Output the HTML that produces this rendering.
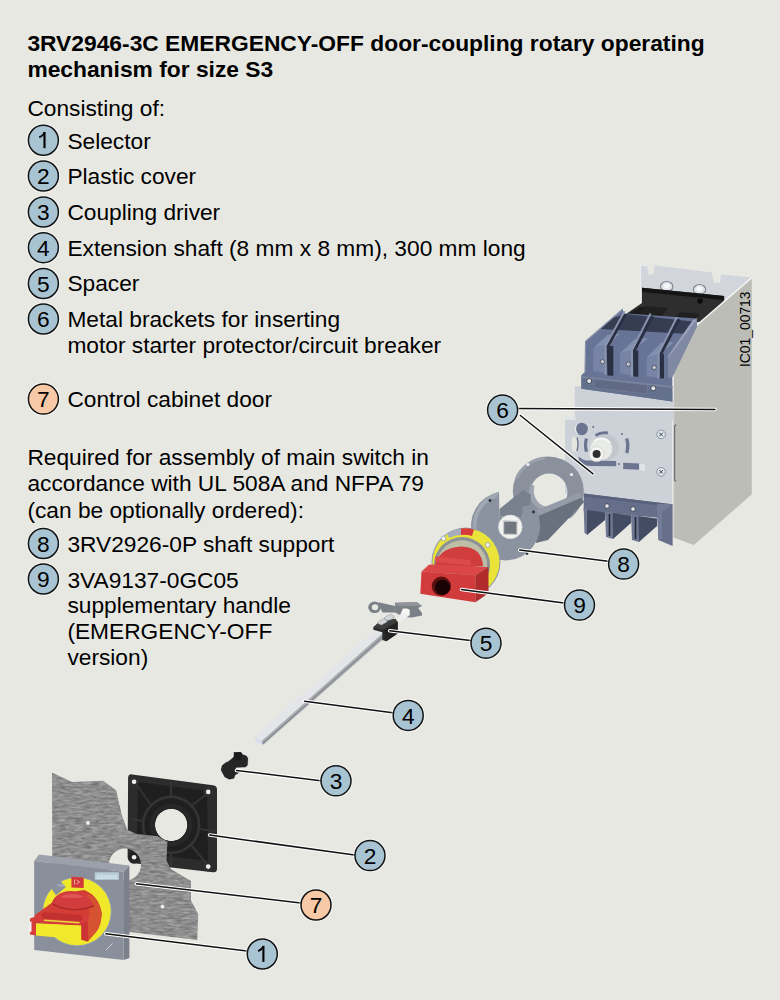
<!DOCTYPE html>
<html><head><meta charset="utf-8">
<style>
html,body{margin:0;padding:0;}
body{width:780px;height:1000px;background:#e8e8e3;overflow:hidden;}
svg{display:block;}
text{font-family:"Liberation Sans",sans-serif;fill:#000;}
.r{font-size:22.72px;}
.bd{font-size:22.8px;font-weight:bold;}
</style></head><body>
<svg width="780" height="1000" viewBox="0 0 780 1000">
<rect width="780" height="1000" fill="#e8e8e3"/>
<defs>
  <filter id="brushf" x="0" y="0" width="1" height="1" color-interpolation-filters="sRGB">
    <feTurbulence type="fractalNoise" baseFrequency="0.12 0.45" numOctaves="3" seed="4" result="n"/>
    <feColorMatrix in="n" type="matrix" values="0 0 0 0 0.5  0 0 0 0 0.5  0 0 0 0 0.5  0 0 0 0 1" result="g"/>
    <feComponentTransfer in="n" result="nn"><feFuncR type="linear" slope="0.42" intercept="0.345"/><feFuncG type="linear" slope="0.42" intercept="0.345"/><feFuncB type="linear" slope="0.42" intercept="0.345"/><feFuncA type="linear" slope="0" intercept="1"/></feComponentTransfer>
    <feColorMatrix in="nn" type="saturate" values="0" result="gray"/>
    <feComposite in="gray" in2="SourceGraphic" operator="in"/>
  </filter>
</defs><!-- ===== DEVICE (top right) ===== -->
<!-- back plate -->
<polygon points="640,264.2 647.2,265.3 648.2,274.5 653.7,274.5 654.4,265.3 711.8,272.4 713.8,282.7 720,282.7 721,274.5 751.8,277.6 700,335 640,335" fill="#d2d6dc"/>
<polyline points="640.5,305 640.5,264.7 647.2,265.8" fill="none" stroke="#eceef0" stroke-width="1.2"/>
<!-- nuts -->
<ellipse cx="666.7" cy="286.5" rx="6.2" ry="5" fill="#dfe3e7" stroke="#7d8389" stroke-width="1.1"/><ellipse cx="666.7" cy="286" rx="3" ry="2.4" fill="#f4f6f8"/>
<ellipse cx="699.5" cy="289.5" rx="6.2" ry="5" fill="#dfe3e7" stroke="#7d8389" stroke-width="1.1"/><ellipse cx="699.5" cy="289" rx="3" ry="2.4" fill="#f4f6f8"/>
<!-- black breaker -->
<polygon points="642,287.8 724.1,296 724.1,306 700,322 640,322 612,325 626.7,313.5 642,303" fill="#2e2e2e"/>
<polygon points="642,287.8 724.1,296 724.1,300 642,292" fill="#141414"/>
<polygon points="622,318 640,307 660,309 640,322" fill="#1a1a1a"/>
<polygon points="646,306 668,308 660,318 638,316" fill="#202020"/>
<polygon points="680,312 700,314 692,322 672,320" fill="#202020"/>
<circle cx="700" cy="301" r="2.8" fill="#0c0c0c"/>
<!-- side panel -->
<polygon points="751.8,277.6 751.8,494.3 693.8,545 673,537.3 673,370.8 686.2,344.6 693.8,327.7" fill="#bdbdb7"/>
<polyline points="751.8,277.6 693.8,327.7 686.2,344.6 673,370.8 673,400" fill="none" stroke="#f4f4f2" stroke-width="1.4"/><line x1="673.8" y1="400" x2="673.8" y2="537" stroke="#d8dad8" stroke-width="1"/>
<!-- upper front plate -->
<polygon points="574.8,386 673,393 673,420 574.8,420" fill="#cdd2d8"/>
<!-- blue terminal block -->
<polygon points="622.8,309 623.4,313.2 697,318.5 697,326 672.3,377 672.3,401.5 650,398.3 581.4,388.7 581.4,375 585,372 585.6,341.4" fill="#687496"/>
<!-- dark back openings -->
<polygon points="612.5,318 626,314 697,322 690,334 600,329" fill="#363d52"/>
<!-- left outer wall highlight -->
<polyline points="622.8,309 585.6,341.4 585,372" fill="none" stroke="#8790aa" stroke-width="1.2"/>
<!-- terminal boxes -->
<polygon points="593.3,348.3 605.8,345 620,334 607.5,335" fill="#8290b0"/>
<polygon points="593.3,348.3 605.8,345 605.8,373.3 593.3,371" fill="#7884a6"/>
<polygon points="620,353.3 633.3,350 648,338 635,339" fill="#8290b0"/>
<polygon points="620,353.3 633.3,350 633.3,375.8 620,373.5" fill="#7884a6"/>
<polygon points="646.7,357.5 660,354 674,342 661,343" fill="#8290b0"/>
<polygon points="646.7,357.5 660,354 660,378.3 646.7,376" fill="#7884a6"/>
<!-- dividers + slots -->
<polygon points="606.5,345.8 624,314 627,314.5 609.5,346 613.3,346 613.3,375.8 607.5,375.5" fill="#2a3043"/>
<polygon points="604.5,346 623.5,311 625.5,311.5 606.5,346 606.5,375 604.5,375" fill="#8a94ae"/>
<polygon points="633,350 651,316 654,316.5 636,350.5 638.3,350.5 638.3,376.7 633.3,376.5" fill="#2a3043"/>
<polygon points="631,350 649.5,313.3 651.5,313.8 633,350 633,376.7 631,376.7" fill="#8a94ae"/>
<polygon points="659.5,353.3 677.5,319 680.5,319.5 662.5,354 664,354 664,378.5 659.5,378.3" fill="#2a3043"/>
<polygon points="657.5,353.5 676,316.7 678,317.2 659.5,353.5 659.5,378.3 657.5,378.3" fill="#8a94ae"/>
<!-- terminal screws -->
<circle cx="602.5" cy="361.7" r="2.1" fill="#c9ccd0" stroke="#3a4052" stroke-width="0.7"/>
<circle cx="628.3" cy="364.2" r="2.1" fill="#c9ccd0" stroke="#3a4052" stroke-width="0.7"/>
<circle cx="654.2" cy="367.5" r="2.1" fill="#c9ccd0" stroke="#3a4052" stroke-width="0.7"/>
<!-- right outer wall -->
<polygon points="697,318.5 697,326 672.3,377 668,378 668,356 693,320" fill="#7f89a3"/>
<polygon points="697,318.5 693,320 668,356 668,358 695,322" fill="#99a2ba"/>
<!-- base band -->
<polygon points="581.4,376 672.3,386 672.3,401.5 650,398.3 581.4,388.7" fill="#63708e"/>
<polygon points="581.4,376 672.3,386 672.3,388 581.4,378" fill="#7a849e"/>
<polygon points="594.2,379 647.5,385 647.5,394 594.2,388" fill="#606a84" stroke="#76809a" stroke-width="0.7"/>
<circle cx="589.2" cy="381" r="2.5" fill="#e2e4e6" stroke="#2e3446" stroke-width="0.8"/>
<circle cx="653.3" cy="388.3" r="2.5" fill="#e2e4e6" stroke="#2e3446" stroke-width="0.8"/>
<!-- lower bracket plate -->
<polygon points="565.1,417.4 576,417.4 576,412 672,415 672,504.2 583.7,493.5 565.1,493.5" fill="#cdd2d9"/>
<polygon points="565.1,417.4 576,417.4 576,420 565.1,420" fill="#e0e4e8"/>
<!-- holes & slots in bracket -->
<circle cx="581.7" cy="429" r="6.2" fill="#6b7590"/>
<path d="M578,423.5 A6.2,6.2 0 0 0 578.5,434.5 A8,8 0 0 1 578,423.5 Z" fill="#eeeeea"/>
<circle cx="593.2" cy="427" r="0.9" fill="#5a6480"/>
<rect x="571.8" y="436.8" width="6.4" height="15" rx="3.2" fill="#e6e6e0"/>
<path d="M577,437.5 Q579,444 577,451" stroke="#6b7590" stroke-width="1.4" fill="none"/>
<path d="M586.5,438.5 Q584.5,445 586.5,451.8" stroke="#6b7590" stroke-width="3.2" fill="none"/>
<path d="M595.5,435.5 Q601,432 608,433" stroke="#6b7590" stroke-width="3" fill="none"/>
<circle cx="622" cy="434" r="0.9" fill="#5a6480"/>
<path d="M626.6,438.5 Q628.8,445 626.8,453" stroke="#6b7590" stroke-width="3.4" fill="none"/>
<path d="M578.7,456.4 Q583,461 590,460.5 L616.2,461 L616.2,466.2 L590,466 Q582,465.5 578.7,460 Z" fill="#6b7590"/>
<circle cx="619" cy="464" r="0.9" fill="#5a6480"/>
<polygon points="623.2,462.8 639.3,463.5 639.3,469.7 623.2,469" fill="#6b7590"/>
<polygon points="639.3,464 645,464.3 645,470.8 639.3,470.3" fill="#e2e5e8"/>
<!-- knob shadow -->
<circle cx="606" cy="447" r="13" fill="#b9bec5" opacity="0.55"/>
<!-- knob -->
<circle cx="601.2" cy="449" r="11" fill="#e9ebe7"/>
<path d="M594,441 A11,11 0 0 1 610,443" stroke="#f7f8f5" stroke-width="2" fill="none"/>
<circle cx="596.6" cy="454.1" r="7.5" fill="#f4f5f2" stroke="#cfd2cd" stroke-width="0.8"/>
<circle cx="596.6" cy="454.1" r="4" fill="#2f2f2f"/>
<!-- screws -->
<circle cx="661.1" cy="434.4" r="4.3" fill="#dfe6ec" stroke="#7f909c" stroke-width="0.9"/><path d="M659.3000000000001,432.59999999999997 L662.9,436.2 M662.9,432.59999999999997 L659.3000000000001,436.2" stroke="#333" stroke-width="0.9"/>
<circle cx="661.1" cy="471.8" r="4.3" fill="#dfe6ec" stroke="#7f909c" stroke-width="0.9"/><path d="M659.3000000000001,470.0 L662.9,473.6 M662.9,470.0 L659.3000000000001,473.6" stroke="#333" stroke-width="0.9"/>
<path d="M676,424.5 L674.6,426 L674.6,480 L676,481.5" stroke="#6f7378" stroke-width="1.3" fill="none"/>
<!-- bottom blue terminals -->
<polygon points="583.7,493.5 671.9,504.2 671.9,519 583.7,511" fill="#656f89"/>
<polygon points="583.7,493.5 671.9,504.2 671.9,507 583.7,496.5" fill="#58627c"/>
<polygon points="583.7,508 587.5,508.5 587.5,535 584.5,533" fill="#6d7792"/>
<polygon points="587,510 605,512.5 605,520 587,535" fill="#444c63"/>
<polygon points="605,511 613,512 613,539 606,537" fill="#6d7792"/>
<line x1="609.5" y1="514" x2="609.5" y2="536" stroke="#262b39" stroke-width="1.6"/>
<polygon points="612.7,513 631,515.5 631,523 613,539" fill="#444c63"/>
<polygon points="631,514 639,515 639,542 632,540" fill="#6d7792"/>
<line x1="635.5" y1="517" x2="635.5" y2="539" stroke="#262b39" stroke-width="1.6"/>
<polygon points="638.5,516 657,518.5 657,526 639,542" fill="#444c63"/>
<polygon points="657,504 672.6,504.2 672.6,546 658.4,540" fill="#66708b"/>
<polygon points="657,504 672.6,504.2 662,512 662,538 658.4,540" fill="#727c97"/>
<circle cx="607" cy="506" r="2.3" fill="#e3e5e7" stroke="#3a4052" stroke-width="0.8"/>
<circle cx="633" cy="509" r="2.3" fill="#e3e5e7" stroke="#3a4052" stroke-width="0.8"/>
<!-- ===== SHAFT SUPPORT (8) ===== -->
<path fill-rule="evenodd" d="M512.8,491 A35.5,34.5 0 1 0 583.8,491 A35.5,34.5 0 1 0 512.8,491 Z M530.5,492 A18.5,18.5 0 1 0 567.5,492 A18.5,18.5 0 1 0 530.5,492 Z" fill="#8a919d"/>
<path d="M515,478 A35.5,34.5 0 0 1 545,456.6 L545,459.5 A32,31 0 0 0 518,479 Z" fill="#9aa1ad"/>
<path d="M530.8,484 A18.5,18.5 0 0 0 545,510.3 L546,506.5 A15,16 0 0 1 534.5,486 Z" fill="#9ea5b0"/>
<circle cx="528" cy="464.5" r="1.6" fill="#eef0f2"/>
<circle cx="571.5" cy="474.5" r="1.6" fill="#eef0f2"/>
<circle cx="568" cy="519.5" r="1.6" fill="#eef0f2"/>
<!-- connecting walls -->
<polygon points="499.5,516 499.5,509 523.3,489.7 531,495 530,505 522.6,507 522.6,518" fill="#7a818e"/>
<polygon points="533,517 580,496 584.2,502 548,540 536,543" fill="#6a717e"/>
<polygon points="532,512 579,493 583,497 536,517" fill="#959ca8"/>
<!-- front disc with U slot -->
<path d="M499,492 L499.5,516 L522.6,518 L522.6,506.4 L533,505 A34.5,34.5 0 1 1 499,492 Z" fill="#8b93a0"/>
<path d="M499,492 A34.5,34.5 0 0 0 476,540 L479,539 A31,31 0 0 1 497,497 Z" fill="#a1a8b3"/>
<circle cx="490" cy="500.5" r="1.4" fill="#2b2f36"/>
<circle cx="533.5" cy="512" r="1.4" fill="#2b2f36"/>
<circle cx="527" cy="553.5" r="1.4" fill="#2b2f36"/>
<!-- white socket -->
<circle cx="510.3" cy="526.9" r="11.8" fill="#f1f2f0" stroke="#d6d9d8" stroke-width="0.8"/>
<polygon points="503.6,520.8 517,521.4 517,534.6 503.6,534" fill="#70777f" stroke="#c9cccf" stroke-width="1.2"/>
<!-- ===== RED HANDLE (9) ===== -->
<circle cx="466" cy="562" r="34.5" fill="#8d97a8"/>
<circle cx="466" cy="562" r="33.5" fill="#eae43a"/>
<path d="M447,533 A33.5,33.5 0 0 1 462,528.6 L462,535 A27,27 0 0 0 449,538 Z" fill="#a5acbb"/>
<path d="M461,528.6 A33.5,33.5 0 0 1 474,529.5 L472,536 A27,27 0 0 0 461,535 Z" fill="#d63a3a"/>
<circle cx="462" cy="565" r="28" fill="#8e9296"/>
<circle cx="462" cy="565.5" r="25.2" fill="#bcbea6"/>
<circle cx="443.5" cy="538.5" r="2.4" fill="#eef0f0" stroke="#888" stroke-width="0.6"/>
<circle cx="487.8" cy="545" r="2.4" fill="#eef0f0" stroke="#888" stroke-width="0.6"/>
<!-- dome -->
<path d="M434,570 Q436,548 461.3,546.4 Q482,547 483,566 Z" fill="#d13d3d"/>
<polygon points="435,556.5 470,560 471.5,565.6 435.5,562" fill="#dc4a4a"/>
<!-- block -->
<polygon points="421.5,571.4 429.2,564.4 488.5,567 475.4,575.3" fill="#db4747"/>
<polygon points="421.5,571.4 475.4,575.3 475.4,602.2 420.3,593.8" fill="#d13b3b"/>
<polygon points="475.4,575.3 488.5,567 488.5,593.2 475.4,602.2" fill="#b02c2c"/>
<ellipse cx="441.4" cy="586.2" rx="9.6" ry="9.6" fill="#5a1010"/>
<ellipse cx="442.5" cy="587.2" rx="7.5" ry="7.5" fill="#1c0303"/>
<!-- ===== SPACER (5) + SHAFT (4) ===== -->
<polygon points="261.2,741.3 383.6,632.3 388,634.9 263,745.1" fill="#a9acb1"/>
<line x1="262.6" y1="743.6" x2="386" y2="633.8" stroke="#7f8288" stroke-width="1.1"/>
<polygon points="254.7,736.2 378.9,627 383.6,632.3 261.2,741.3" fill="#e4e5e9"/>
<polygon points="254.7,736.2 261.2,741.3 263,745.1 256.5,742.5" fill="#d8dcec"/>
<!-- metal tab ring -->
<path fill-rule="evenodd" d="M368.2,607.3 A6.4,5.8 0 1 0 381,607.3 A6.4,5.8 0 1 0 368.2,607.3 Z M371.8,607.3 A3.2,3 0 1 0 378.2,607.3 A3.2,3 0 1 0 371.8,607.3 Z" fill="#7b8187"/>
<polygon points="378.5,602.2 395.1,606 395.1,612.4 382.3,612.4" fill="#7b8187"/>
<polygon points="395.1,602.8 416.9,602.2 422,606 418.2,608 422,613 422,615.6 411.8,617.6 404.1,617 395.1,612.4" fill="#7a8086"/>
<polygon points="395.1,602.8 416.9,602.2 422,606 398,606" fill="#8e949a"/>
<!-- white cylinder -->
<polygon points="397.7,620.8 402.8,608.6 409.2,609.2 409.9,615 399,622.7" fill="#eeefee"/>
<ellipse cx="406" cy="611.5" rx="3.6" ry="3" fill="#f7f7f6"/>
<!-- black block -->
<polygon points="373.3,627.2 378.5,622.7 395.1,618.8 397.7,622 397.7,633.6 386.2,641.3 382.3,640 382.3,632.3 373.3,629.7" fill="#2b2b2b"/>
<polygon points="373.3,627.2 378.5,622.7 395.1,618.8 397.7,622 383.6,629.7" fill="#3d3d3d"/>
<polygon points="383.6,629.7 397.7,622 397.7,633.6 386.2,641.3" fill="#232323"/>
<!-- nuts -->
<polygon points="377.8,622 383.5,618.6 387,620.4 387,622 381.5,625 377.8,623.5" fill="#d3d6d9" stroke="#8a8e93" stroke-width="0.5"/>
<polygon points="384.5,617.5 390.5,614.2 394,616 394,617.6 388.2,620.6 384.5,619" fill="#d3d6d9" stroke="#8a8e93" stroke-width="0.5"/>
<!-- ===== COUPLING DRIVER (3) ===== -->
<polygon points="233.8,752.3 240.8,751.9 242.3,753.8 246.9,755.4 248.5,758.5 248.1,765.4 245.4,767.7 236.2,768.1 239.6,773.1 235.4,775.4 234.6,778.8 229.2,780 224.2,777.3 220.4,770 221.5,765.4 225.4,762.3 228.5,760.8 233.1,756.9" fill="#262626" stroke="#f4f4f2" stroke-width="0.8" stroke-linejoin="round"/>
<polygon points="233.8,752.3 240.8,751.9 242.3,753.8 241,760 234,760.5" fill="#1c1c1c"/>
<!-- ===== PLASTIC COVER (2) ===== -->
<path fill-rule="evenodd" d="M132,774.4 L213,785.2 Q217,785.7 217,789.5 L217,868.7 Q217,872.7 213,872.2 L136,863.5 A6.6,6.6 0 0 1 127.6,857.5 L128.1,778.4 Q128.1,773.9 132,774.4 Z M171.1,808.7 A16.2,16.2 0 1 0 171.2,808.7 Z" fill="#2c2c2c"/>
<path fill-rule="evenodd" d="M138,782 L207,791 L208,861 L137,852 Z M171.1,808.7 A16.2,16.2 0 1 0 171.2,808.7 Z" fill="#1f1f1f"/>
<g stroke="#343434" fill="none">
<circle cx="171.1" cy="824.9" r="28" stroke-width="2.6"/>
<circle cx="171.1" cy="824.9" r="19" stroke-width="4.5" stroke="#272727"/>
<line x1="171" y1="782" x2="171" y2="797" stroke-width="2"/>
<line x1="171" y1="853" x2="171" y2="866" stroke-width="2"/>
<line x1="131" y1="819" x2="143" y2="821" stroke-width="2"/>
<line x1="199" y1="829" x2="215" y2="831" stroke-width="2"/>
<line x1="136" y1="784" x2="151" y2="805" stroke-width="2"/>
<line x1="207" y1="794" x2="191" y2="806" stroke-width="2"/>
<line x1="207" y1="864" x2="191" y2="845" stroke-width="2"/>
<line x1="136" y1="856" x2="151" y2="845" stroke-width="2"/>
</g>
<circle cx="134.1" cy="781.8" r="5" fill="#303030"/>
<circle cx="208.2" cy="791.9" r="5" fill="#303030"/>
<circle cx="208.2" cy="866.6" r="5" fill="#303030"/>
<circle cx="134.1" cy="857.2" r="5.8" fill="#232323"/>
<circle cx="134.1" cy="781.8" r="2.3" fill="#f0f0ee"/>
<circle cx="208.2" cy="791.9" r="2.3" fill="#f0f0ee"/>
<circle cx="208.2" cy="866.6" r="2.3" fill="#f0f0ee"/>
<circle cx="134.1" cy="857.2" r="2.3" fill="#f0f0ee"/>
<!-- ===== DOOR (7) ===== -->
<path fill-rule="evenodd" d="M52,772.5 L72,782 L103.2,780.7 L116.3,790.5 L121.7,814.5 L127.2,829.7 L137,834.1 L157.7,836.3 L167.5,841.7 L166.4,860.3 L170.8,869 L191,881 L191,900.4 L198.2,913.9 L197.3,940 L131.5,932.2 L52.4,925 Z M109,864.6 A16,16 0 1 0 141,864.6 A16,16 0 1 0 109,864.6 Z" fill="#a5a5a5" filter="url(#brushf)"/>
<circle cx="88" cy="823" r="1.9" fill="#f0f0f0"/>
<circle cx="162.5" cy="906.7" r="1.9" fill="#f0f0f0"/>
<!-- ===== SELECTOR (1) ===== -->
<polygon points="34.2,861 39.1,854.5 129.4,865.6 123.7,871.8" fill="#9ba0aa"/>
<polygon points="123.7,871.8 129.4,865.6 129.4,958 123.7,960" fill="#7b808a"/>
<polygon points="34.2,861 123.7,871.8 123.7,960 34.2,950.1" fill="#8a909b"/>
<rect x="94.8" y="872.3" width="24" height="7.5" fill="#b7cfd9"/><text x="106.8" y="878.6" text-anchor="middle" style="font-size:5.2px;fill:#e6f0f4" textLength="21" lengthAdjust="spacingAndGlyphs">SIEMENS</text>
<circle cx="77" cy="911.5" r="34.6" fill="#97a3bb"/>
<circle cx="77" cy="911.5" r="33.8" fill="#f0e82a"/>
<polygon points="50.4,886.9 59.1,879.7 65.8,886.9 56,895.6" fill="#8a909b"/>
<polygon points="71.4,876.7 83.7,877.6 83.7,887.9 71.4,887.5" fill="#d33838"/><path d="M74.5,879.5 L74.5,884.5 M76.5,880 L79.5,882 L76.5,884" stroke="#f4dede" stroke-width="0.7" fill="none"/><text x="57" y="886.5" style="font-size:3.6px;fill:#c9ced8">TRIP</text>
<!-- red body -->
<path d="M35,915 L51.9,902.8 C56,893 66,890.5 74,891.5 L84.2,890 Q99,896 101.7,913 Q101,926 96.5,931.5 L88.3,940.8 L81.2,925 L35,923 Z" fill="#d33d35"/>
<path d="M89,894 Q99,901 101.7,913 Q101,926 96.5,931.5 L88.3,940.8 L88,921 Q92,906 86,896 Z" fill="#d65230"/>
<path d="M51.9,902.8 C56,893 66,890.5 74,891.5 C85,893 92,899 94,905.9 C85,909 74,910 64,908.5 C57,907.5 53,905.5 51.9,902.8 Z" fill="#d33c3c"/>
<path d="M60,897 C66,893 76,893 84,896.5 C78,898.5 68,898.5 60,897 Z" fill="#e05656"/>
<path d="M52.5,903.5 C57,907.5 64,909 74,909.8 C82,909.5 89,908 94,905.9" stroke="#a82626" stroke-width="1.3" fill="none"/>
<!-- handle frame -->
<polygon points="35,916.2 41.2,912 86.3,915.6 87.3,921.3 81.2,925.4 35,923.3" fill="#d63c3a"/>
<rect x="41.5" y="913.8" width="41" height="6" rx="3" transform="rotate(4 62 917)" fill="#c23030"/>
<polygon points="44,919.5 80,922 79,923.5 44,921" fill="#e9d83a"/>
<polygon points="36,923.3 81.2,925.9 81.2,939.7 36,935.6" fill="#f1e92c"/>
<polygon points="81.2,923.3 87.3,921.3 88.3,941.8 81.2,939.7" fill="#cc3434"/>
<polygon points="30,918.5 36,916.2 36,935.6 30,934.5" fill="#d63c3a"/>
<polygon points="29,922 31.5,921.5 31.5,932 29,931.5" fill="#f2f2f2"/>
<path d="M106,950 l2.5,-2.5 M108.5,947.5 l4,-4" stroke="#e0e4ea" stroke-width="0.8" fill="none"/>

<text x="27.4" y="51.3" class="bd">3RV2946-3C EMERGENCY-OFF door-coupling rotary operating</text><text x="27.4" y="77.0" class="bd">mechanism for size S3</text><text x="27.4" y="116.3" class="r">Consisting of:</text><text x="67.4" y="148.5" class="r">Selector</text><text x="67.4" y="184.2" class="r">Plastic cover</text><text x="67.4" y="220.2" class="r">Coupling driver</text><text x="67.4" y="255.8" class="r">Extension shaft (8 mm x 8 mm), 300 mm long</text><text x="67.4" y="291.2" class="r">Spacer</text><text x="67.4" y="326.8" class="r">Metal brackets for inserting</text><text x="67.4" y="352.7" class="r">motor starter protector/circuit breaker</text><text x="67.4" y="406.8" class="r">Control cabinet door</text><text x="27.4" y="464.5" class="r">Required for assembly of main switch in</text><text x="27.4" y="491.3" class="r">accordance with UL 508A and NFPA 79</text><text x="27.4" y="518.0" class="r">(can be optionally ordered):</text><text x="67.4" y="551.5" class="r">3RV2926-0P shaft support</text><text x="67.4" y="587.6" class="r">3VA9137-0GC05</text><text x="67.4" y="612.9" class="r">supplementary handle</text><text x="67.4" y="639.2" class="r">(EMERGENCY-OFF</text><text x="67.4" y="664.9" class="r">version)</text><circle cx="43.4" cy="140.25" r="16.2" fill="none" stroke="#ffffff" stroke-opacity="0.55" stroke-width="1.2"/><circle cx="43.4" cy="140.25" r="15" fill="#a8c4d2" stroke="#141414" stroke-width="1.5"/><path d="M44.50,132.15 L44.50,148.15" stroke="#000" stroke-width="2.1" fill="none"/><path d="M44.80,132.35 Q42.90,135.75 39.30,137.35" stroke="#000" stroke-width="1.9" fill="none"/><circle cx="43.4" cy="176" r="16.2" fill="none" stroke="#ffffff" stroke-opacity="0.55" stroke-width="1.2"/><circle cx="43.4" cy="176" r="15" fill="#a8c4d2" stroke="#141414" stroke-width="1.5"/><text x="43.4" y="184.10" text-anchor="middle" class="r">2</text><circle cx="43.4" cy="212" r="16.2" fill="none" stroke="#ffffff" stroke-opacity="0.55" stroke-width="1.2"/><circle cx="43.4" cy="212" r="15" fill="#a8c4d2" stroke="#141414" stroke-width="1.5"/><text x="43.4" y="220.10" text-anchor="middle" class="r">3</text><circle cx="43.4" cy="247.7" r="16.2" fill="none" stroke="#ffffff" stroke-opacity="0.55" stroke-width="1.2"/><circle cx="43.4" cy="247.7" r="15" fill="#a8c4d2" stroke="#141414" stroke-width="1.5"/><text x="43.4" y="255.80" text-anchor="middle" class="r">4</text><circle cx="43.4" cy="283.5" r="16.2" fill="none" stroke="#ffffff" stroke-opacity="0.55" stroke-width="1.2"/><circle cx="43.4" cy="283.5" r="15" fill="#a8c4d2" stroke="#141414" stroke-width="1.5"/><text x="43.4" y="291.60" text-anchor="middle" class="r">5</text><circle cx="43.4" cy="319" r="16.2" fill="none" stroke="#ffffff" stroke-opacity="0.55" stroke-width="1.2"/><circle cx="43.4" cy="319" r="15" fill="#a8c4d2" stroke="#141414" stroke-width="1.5"/><text x="43.4" y="327.10" text-anchor="middle" class="r">6</text><circle cx="43.4" cy="399.05" r="16.2" fill="none" stroke="#ffffff" stroke-opacity="0.55" stroke-width="1.2"/><circle cx="43.4" cy="399.05" r="15" fill="#f8c9a6" stroke="#141414" stroke-width="1.5"/><text x="43.4" y="407.15" text-anchor="middle" class="r">7</text><circle cx="43.4" cy="543.5" r="16.2" fill="none" stroke="#ffffff" stroke-opacity="0.55" stroke-width="1.2"/><circle cx="43.4" cy="543.5" r="15" fill="#a8c4d2" stroke="#141414" stroke-width="1.5"/><text x="43.4" y="551.60" text-anchor="middle" class="r">8</text><circle cx="43.4" cy="579" r="16.2" fill="none" stroke="#ffffff" stroke-opacity="0.55" stroke-width="1.2"/><circle cx="43.4" cy="579" r="15" fill="#a8c4d2" stroke="#141414" stroke-width="1.5"/><text x="43.4" y="587.10" text-anchor="middle" class="r">9</text><line x1="518" y1="408.5" x2="715" y2="409.5" stroke="#fff" stroke-width="3.6" stroke-linecap="round"/><line x1="520.4" y1="415.5" x2="593" y2="473.9" stroke="#fff" stroke-width="3.6" stroke-linecap="round"/><line x1="519.7" y1="550" x2="608" y2="561.3" stroke="#fff" stroke-width="3.6" stroke-linecap="round"/><line x1="461.5" y1="589.5" x2="564" y2="603" stroke="#fff" stroke-width="3.6" stroke-linecap="round"/><line x1="389.7" y1="630.8" x2="470.5" y2="640.5" stroke="#fff" stroke-width="3.6" stroke-linecap="round"/><line x1="304.6" y1="701.3" x2="392.8" y2="712.8" stroke="#fff" stroke-width="3.6" stroke-linecap="round"/><line x1="236.5" y1="770.4" x2="320.5" y2="780.8" stroke="#fff" stroke-width="3.6" stroke-linecap="round"/><line x1="209.6" y1="835" x2="354.6" y2="855" stroke="#fff" stroke-width="3.6" stroke-linecap="round"/><line x1="136.5" y1="883.8" x2="300.8" y2="903" stroke="#fff" stroke-width="3.6" stroke-linecap="round"/><line x1="105.8" y1="933.8" x2="247" y2="951" stroke="#fff" stroke-width="3.6" stroke-linecap="round"/><line x1="518" y1="408.5" x2="715" y2="409.5" stroke="#111" stroke-width="1.5" stroke-linecap="round"/><line x1="520.4" y1="415.5" x2="593" y2="473.9" stroke="#111" stroke-width="1.5" stroke-linecap="round"/><line x1="519.7" y1="550" x2="608" y2="561.3" stroke="#111" stroke-width="1.5" stroke-linecap="round"/><line x1="461.5" y1="589.5" x2="564" y2="603" stroke="#111" stroke-width="1.5" stroke-linecap="round"/><line x1="389.7" y1="630.8" x2="470.5" y2="640.5" stroke="#111" stroke-width="1.5" stroke-linecap="round"/><line x1="304.6" y1="701.3" x2="392.8" y2="712.8" stroke="#111" stroke-width="1.5" stroke-linecap="round"/><line x1="236.5" y1="770.4" x2="320.5" y2="780.8" stroke="#111" stroke-width="1.5" stroke-linecap="round"/><line x1="209.6" y1="835" x2="354.6" y2="855" stroke="#111" stroke-width="1.5" stroke-linecap="round"/><line x1="136.5" y1="883.8" x2="300.8" y2="903" stroke="#111" stroke-width="1.5" stroke-linecap="round"/><line x1="105.8" y1="933.8" x2="247" y2="951" stroke="#111" stroke-width="1.5" stroke-linecap="round"/><circle cx="502.6" cy="410.1" r="16.2" fill="none" stroke="#ffffff" stroke-opacity="0.55" stroke-width="1.2"/><circle cx="502.6" cy="410.1" r="15" fill="#a8c4d2" stroke="#141414" stroke-width="1.5"/><text x="502.6" y="418.20" text-anchor="middle" class="r">6</text><circle cx="623.6" cy="564.1" r="16.2" fill="none" stroke="#ffffff" stroke-opacity="0.55" stroke-width="1.2"/><circle cx="623.6" cy="564.1" r="15" fill="#a8c4d2" stroke="#141414" stroke-width="1.5"/><text x="623.6" y="572.20" text-anchor="middle" class="r">8</text><circle cx="579.5" cy="605.1" r="16.2" fill="none" stroke="#ffffff" stroke-opacity="0.55" stroke-width="1.2"/><circle cx="579.5" cy="605.1" r="15" fill="#a8c4d2" stroke="#141414" stroke-width="1.5"/><text x="579.5" y="613.20" text-anchor="middle" class="r">9</text><circle cx="486" cy="643.2" r="16.2" fill="none" stroke="#ffffff" stroke-opacity="0.55" stroke-width="1.2"/><circle cx="486" cy="643.2" r="15" fill="#a8c4d2" stroke="#141414" stroke-width="1.5"/><text x="486" y="651.30" text-anchor="middle" class="r">5</text><circle cx="408.2" cy="715.4" r="16.2" fill="none" stroke="#ffffff" stroke-opacity="0.55" stroke-width="1.2"/><circle cx="408.2" cy="715.4" r="15" fill="#a8c4d2" stroke="#141414" stroke-width="1.5"/><text x="408.2" y="723.50" text-anchor="middle" class="r">4</text><circle cx="336" cy="780.8" r="16.2" fill="none" stroke="#ffffff" stroke-opacity="0.55" stroke-width="1.2"/><circle cx="336" cy="780.8" r="15" fill="#a8c4d2" stroke="#141414" stroke-width="1.5"/><text x="336" y="788.90" text-anchor="middle" class="r">3</text><circle cx="370" cy="855.6" r="16.2" fill="none" stroke="#ffffff" stroke-opacity="0.55" stroke-width="1.2"/><circle cx="370" cy="855.6" r="15" fill="#a8c4d2" stroke="#141414" stroke-width="1.5"/><text x="370" y="863.70" text-anchor="middle" class="r">2</text><circle cx="316" cy="905" r="16.2" fill="none" stroke="#ffffff" stroke-opacity="0.55" stroke-width="1.2"/><circle cx="316" cy="905" r="15" fill="#f8c9a6" stroke="#141414" stroke-width="1.5"/><text x="316" y="913.10" text-anchor="middle" class="r">7</text><circle cx="262.3" cy="954" r="16.2" fill="none" stroke="#ffffff" stroke-opacity="0.55" stroke-width="1.2"/><circle cx="262.3" cy="954" r="15" fill="#a8c4d2" stroke="#141414" stroke-width="1.5"/><path d="M263.40,945.90 L263.40,961.90" stroke="#000" stroke-width="2.1" fill="none"/><path d="M263.70,946.10 Q261.80,949.50 258.20,951.10" stroke="#000" stroke-width="1.9" fill="none"/><text x="749.6" y="367" transform="rotate(-90 749.6 367)" style="font-size:14.2px" textLength="75.5" lengthAdjust="spacingAndGlyphs">IC01_00713</text>
</svg>
</body></html>
